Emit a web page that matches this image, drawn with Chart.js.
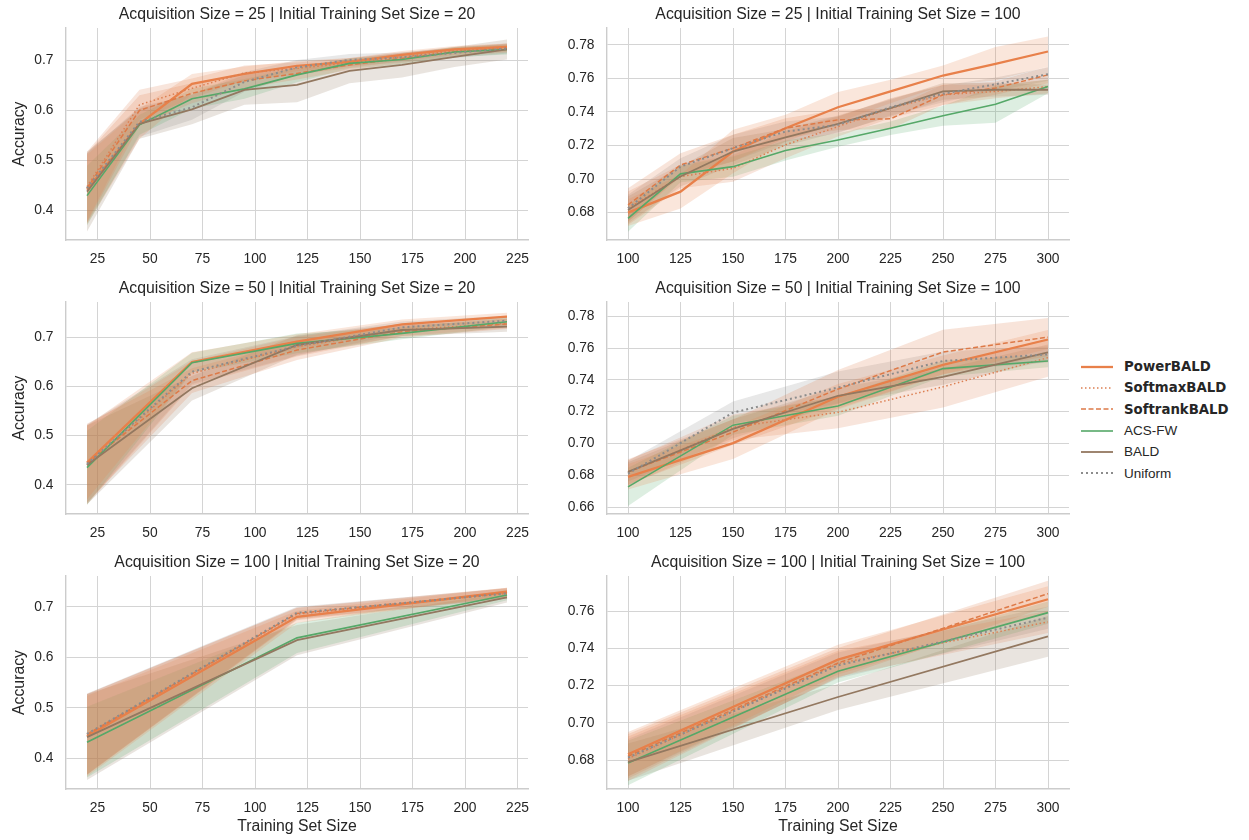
<!DOCTYPE html>
<html>
<head>
    <meta charset="utf-8" />
    <title>Accuracy vs Training Set Size</title>
    <style>
        body {
            margin: 0;
            background: #fff;
            width: 1249px;
            height: 840px;
            position: relative;
            overflow: hidden;
            font-family: "Liberation Sans", Arial, sans-serif;
        }
        canvas {
            position: absolute;
        }
        #legend {
            position: absolute;
            left: 1081px;
            top: 356px;
            font-size: 13.5px;
            color: #262626;
        }
        #legend .row {
            height: 21.3px;
            display: flex;
            align-items: center;
        }
        #legend .b {
            font-family: "DejaVu Sans", sans-serif;
            font-weight: bold;
            font-size: 13.3px;
        }
        #legend svg {
            width: 32px;
            height: 6px;
            margin-right: 11px;
        }
    </style>
</head>

<body>
    <canvas id="c1" width="540" height="274" style="left:0;top:0"></canvas>
    <canvas id="c2" width="520" height="274" style="left:560px;top:0"></canvas>
    <canvas id="c3" width="540" height="274" style="left:0;top:274px"></canvas>
    <canvas id="c4" width="520" height="274" style="left:560px;top:274px"></canvas>
    <canvas id="c5" width="540" height="292" style="left:0;top:548px"></canvas>
    <canvas id="c6" width="520" height="292" style="left:560px;top:548px"></canvas>
    <div id="legend"></div>

<script src="https://cdn.jsdelivr.net/npm/chart.js@4.4.0/dist/chart.umd.min.js"></script>
<script>
    // methods, in hue order
    var methods = ['PowerBALD', 'SoftmaxBALD', 'SoftrankBALD', 'ACS-FW', 'BALD', 'Uniform'];
    var boldNames = [true, true, true, false, false, false];

    // training set sizes per panel
    var xAcq25Init20 = [20, 45, 70, 95, 120, 145, 170, 195, 220];
    var xAcq25Init100 = [100, 125, 150, 175, 200, 225, 250, 275, 300];
    var xAcq50Init20 = [20, 70, 120, 170, 220];
    var xAcq50Init100 = [100, 150, 200, 250, 300];
    var xAcq100Init20 = [20, 120, 220];
    var xAcq100Init100 = [100, 200, 300];

    // tick labels
    var xTicksLeft = [25, 50, 75, 100, 125, 150, 175, 200, 225];
    var xTicksRight = [100, 125, 150, 175, 200, 225, 250, 275, 300];
    var yTicksLeft = [0.4, 0.5, 0.6, 0.7];
    var yTicksRight = [0.68, 0.70, 0.72, 0.74, 0.76, 0.78];
    var yTicksRight4 = [0.66, 0.68, 0.70, 0.72, 0.74, 0.76, 0.78];
    var yTicksRight6 = [0.68, 0.70, 0.72, 0.74, 0.76];

    // mean accuracy, rows follow `methods`
    var p1Mean = [
        [0.441, 0.573, 0.653, 0.673, 0.689, 0.697, 0.711, 0.722, 0.727],
        [0.447, 0.611, 0.644, 0.675, 0.684, 0.695, 0.707, 0.719, 0.726],
        [0.444, 0.600, 0.634, 0.659, 0.674, 0.691, 0.704, 0.717, 0.724],
        [0.429, 0.571, 0.623, 0.643, 0.671, 0.694, 0.702, 0.717, 0.722],
        [0.437, 0.573, 0.602, 0.641, 0.651, 0.679, 0.691, 0.707, 0.722],
        [0.444, 0.577, 0.606, 0.657, 0.686, 0.701, 0.706, 0.715, 0.724]
    ];
    var p1Err = [
        [0.070, 0.030, 0.020, 0.015, 0.010, 0.008, 0.008, 0.007, 0.007],
        [0.070, 0.030, 0.020, 0.015, 0.012, 0.010, 0.008, 0.008, 0.008],
        [0.070, 0.030, 0.020, 0.015, 0.012, 0.010, 0.010, 0.008, 0.008],
        [0.060, 0.020, 0.020, 0.020, 0.015, 0.010, 0.010, 0.010, 0.010],
        [0.080, 0.030, 0.030, 0.030, 0.035, 0.025, 0.025, 0.020, 0.020],
        [0.070, 0.030, 0.025, 0.020, 0.015, 0.012, 0.010, 0.010, 0.010]
    ];

    var p2Mean = [
        [0.680, 0.6925, 0.7164, 0.7303, 0.7428, 0.7522, 0.7617, 0.7687, 0.776],
        [0.6826, 0.7015, 0.7064, 0.7204, 0.7313, 0.7422, 0.7502, 0.7522, 0.7551],
        [0.6846, 0.7084, 0.7184, 0.7303, 0.7353, 0.7359, 0.7502, 0.7542, 0.7621],
        [0.6766, 0.7031, 0.7074, 0.717, 0.7233, 0.7303, 0.7377, 0.7446, 0.7551],
        [0.6816, 0.7015, 0.7164, 0.7249, 0.7329, 0.7422, 0.7522, 0.7532, 0.7532],
        [0.6826, 0.7074, 0.7184, 0.7283, 0.7323, 0.7428, 0.7508, 0.7565, 0.7625]
    ];
    var p2Err = [
        [0.008, 0.010, 0.013, 0.008, 0.009, 0.007, 0.006, 0.010, 0.009],
        [0.010, 0.007, 0.008, 0.008, 0.006, 0.006, 0.006, 0.004, 0.004],
        [0.010, 0.007, 0.008, 0.006, 0.006, 0.006, 0.006, 0.004, 0.005],
        [0.008, 0.005, 0.006, 0.006, 0.004, 0.004, 0.006, 0.011, 0.004],
        [0.008, 0.006, 0.008, 0.005, 0.005, 0.005, 0.005, 0.004, 0.003],
        [0.008, 0.005, 0.008, 0.006, 0.005, 0.005, 0.005, 0.004, 0.004]
    ];

    var p3Mean = [
        [0.4453, 0.6493, 0.6905, 0.7257, 0.7412],
        [0.4405, 0.6264, 0.6804, 0.7142, 0.7277],
        [0.4440, 0.6115, 0.6736, 0.7108, 0.7264],
        [0.4350, 0.6480, 0.6870, 0.7074, 0.7310],
        [0.4405, 0.5960, 0.6838, 0.7142, 0.7209],
        [0.4426, 0.6297, 0.6818, 0.7196, 0.7331]
    ];
    var p3Err = [
        [0.075, 0.020, 0.015, 0.010, 0.008],
        [0.080, 0.025, 0.020, 0.012, 0.010],
        [0.080, 0.025, 0.020, 0.012, 0.010],
        [0.075, 0.020, 0.020, 0.012, 0.010],
        [0.080, 0.025, 0.020, 0.012, 0.010],
        [0.080, 0.025, 0.020, 0.012, 0.010]
    ];

    var p4Mean = [
        [0.6790, 0.7002, 0.7294, 0.7494, 0.7654],
        [0.6815, 0.7102, 0.7196, 0.7356, 0.7540],
        [0.6821, 0.7071, 0.7342, 0.7575, 0.7669],
        [0.6727, 0.7115, 0.7235, 0.7471, 0.7519],
        [0.6821, 0.7092, 0.7300, 0.7419, 0.7573],
        [0.6810, 0.7194, 0.7352, 0.7519, 0.7560]
    ];
    var p4Err = [
        [0.008, 0.010, 0.008, 0.006, 0.006],
        [0.008, 0.008, 0.010, 0.013, 0.012],
        [0.008, 0.008, 0.012, 0.014, 0.012],
        [0.012, 0.006, 0.006, 0.005, 0.004],
        [0.006, 0.006, 0.005, 0.005, 0.005],
        [0.008, 0.007, 0.010, 0.006, 0.005]
    ];

    var p5Mean = [
        [0.4437, 0.6801, 0.7298],
        [0.4470, 0.6854, 0.7265],
        [0.4470, 0.6868, 0.7278],
        [0.4318, 0.6384, 0.7232],
        [0.4417, 0.6338, 0.7185],
        [0.4483, 0.6881, 0.7265]
    ];
    var p5Err = [
        [0.080, 0.012, 0.008],
        [0.080, 0.012, 0.010],
        [0.080, 0.012, 0.010],
        [0.070, 0.030, 0.010],
        [0.085, 0.030, 0.010],
        [0.080, 0.012, 0.010]
    ];

    var p6Mean = [
        [0.6831, 0.7340, 0.7665],
        [0.6807, 0.7318, 0.7543],
        [0.6820, 0.7322, 0.7695],
        [0.6784, 0.7277, 0.7593],
        [0.6789, 0.7139, 0.7465],
        [0.6813, 0.7309, 0.7566]
    ];
    var p6Err = [
        [0.012, 0.008, 0.007],
        [0.012, 0.007, 0.006],
        [0.012, 0.008, 0.007],
        [0.012, 0.006, 0.006],
        [0.010, 0.007, 0.011],
        [0.010, 0.007, 0.006]
    ];

    // styles
    var lineColors = ['#e8804a', '#dc7f52', '#dd7a48', '#55a868', '#937860', '#8c8c8c'];
    var bandColors = ['rgba(230,128,75,0.2)', 'rgba(220,127,82,0.2)', 'rgba(221,122,72,0.2)',
        'rgba(85,168,104,0.2)', 'rgba(147,120,96,0.2)', 'rgba(140,140,140,0.2)'];
    var lineWidths = [2.3, 1.5, 1.5, 1.6, 1.8, 2.0];
    var lineDashes = [[], [1.5, 2.5], [5, 2.5], [], [], [2, 3]];

    var fontFam = '"Liberation Sans", Arial, sans-serif';
    var textColor = '#262626';
    var gridColor = '#d4d4d4';

    function makePanel(id, title, xs, mean, err, o) {
        var datasets = [];
        for (var i = 0; i < methods.length; i++) {
            var lo = xs.map(function (x, j) { return { x: x, y: mean[i][j] - err[i][j] }; });
            var hi = xs.map(function (x, j) { return { x: x, y: mean[i][j] + err[i][j] }; });
            datasets.push({
                label: methods[i] + ' lo', data: lo, borderColor: 'transparent',
                borderWidth: 0, pointRadius: 0, fill: false, order: 20
            });
            datasets.push({
                label: methods[i] + ' hi', data: hi, borderColor: 'transparent',
                borderWidth: 0, pointRadius: 0, fill: datasets.length - 1,
                backgroundColor: bandColors[i], order: 20
            });
        }
        for (var k = 0; k < methods.length; k++) {
            datasets.push({
                label: methods[k],
                data: xs.map(function (x, j) { return { x: x, y: mean[k][j] }; }),
                borderColor: lineColors[k],
                borderWidth: lineWidths[k],
                borderDash: lineDashes[k],
                pointRadius: 0,
                fill: false,
                tension: 0,
                order: methods.length - k
            });
        }

        return new Chart(document.getElementById(id), {
            type: 'line',
            data: { datasets: datasets },
            options: {
                responsive: false,
                animation: false,
                layout: { padding: { right: o.padRight } },
                plugins: {
                    legend: { display: false },
                    tooltip: { enabled: false },
                    filler: { drawTime: 'beforeDatasetsDraw' },
                    title: {
                        display: true,
                        text: title,
                        fullSize: false,
                        color: textColor,
                        font: { family: fontFam, size: 15.8, weight: 'normal' },
                        padding: { top: 5.5, bottom: 3.54 }
                    }
                },
                scales: {
                    x: {
                        type: 'linear',
                        min: o.xMin, max: o.xMax,
                        afterBuildTicks: function (s) { s.ticks = o.xTicks.map(function (v) { return { value: v }; }); },
                        afterFit: function (s) { s.height = o.xH; },
                        ticks: {
                            color: textColor, padding: 10.5, maxRotation: 0, autoSkip: false,
                            font: { family: fontFam, size: 13.8 },
                            callback: function (v) { return String(v); }
                        },
                        grid: { color: gridColor, lineWidth: 1, drawTicks: false },
                        border: { color: '#cccccc', width: 1.4 },
                        title: {
                            display: o.xTitle, text: 'Training Set Size', color: textColor,
                            font: { family: fontFam, size: 15.8 }, padding: { top: 0, bottom: 3.5 }
                        }
                    },
                    y: {
                        min: o.yMin, max: o.yMax,
                        afterBuildTicks: function (s) { s.ticks = o.yTicks.map(function (v) { return { value: v }; }); },
                        afterFit: function (s) { s.width = o.yW; },
                        ticks: {
                            color: textColor, padding: 12.5,
                            font: { family: fontFam, size: 13.8 },
                            callback: function (v) { return v.toFixed(o.dec); }
                        },
                        grid: { color: gridColor, lineWidth: 1, drawTicks: false },
                        border: { color: '#cccccc', width: 1.4 },
                        title: {
                            display: o.yTitle, text: 'Accuracy', color: textColor,
                            font: { family: fontFam, size: 15.8 }, padding: { top: 10.5, bottom: 0 }
                        }
                    }
                }
            }
        });
    }

    var leftOpts = { xMin: 10, xMax: 230, xTicks: xTicksLeft, yTicks: yTicksLeft, dec: 1, yW: 66, padRight: 12, yTitle: true };
    var rightOpts = { xMin: 90, xMax: 310, xTicks: xTicksRight, dec: 2, yW: 47, padRight: 11, yTitle: false };

    function merge(a, b) {
        var r = {};
        for (var k in a) r[k] = a[k];
        for (var m in b) r[m] = b[m];
        return r;
    }

    makePanel('c1', 'Acquisition Size = 25 | Initial Training Set Size = 20', xAcq25Init20, p1Mean, p1Err,
        merge(leftOpts, { yMin: 0.34, yMax: 0.765, xH: 34, xTitle: false }));
    makePanel('c2', 'Acquisition Size = 25 | Initial Training Set Size = 100', xAcq25Init100, p2Mean, p2Err,
        merge(rightOpts, { yMin: 0.6637, yMax: 0.790, yTicks: yTicksRight, xH: 34, xTitle: false }));
    makePanel('c3', 'Acquisition Size = 50 | Initial Training Set Size = 20', xAcq50Init20, p3Mean, p3Err,
        merge(leftOpts, { yMin: 0.341, yMax: 0.771, xH: 34, xTitle: false }));
    makePanel('c4', 'Acquisition Size = 50 | Initial Training Set Size = 100', xAcq50Init100, p4Mean, p4Err,
        merge(rightOpts, { yMin: 0.6556, yMax: 0.789, yTicks: yTicksRight4, xH: 34, xTitle: false }));
    makePanel('c5', 'Acquisition Size = 100 | Initial Training Set Size = 20', xAcq100Init20, p5Mean, p5Err,
        merge(leftOpts, { yMin: 0.339, yMax: 0.761, xH: 51, xTitle: true }));
    makePanel('c6', 'Acquisition Size = 100 | Initial Training Set Size = 100', xAcq100Init100, p6Mean, p6Err,
        merge(rightOpts, { yMin: 0.6644, yMax: 0.779, yTicks: yTicksRight6, xH: 51, xTitle: true }));

    // legend
    var legend = document.getElementById('legend');
    methods.forEach(function (m, i) {
        var row = document.createElement('div');
        row.className = 'row';
        var dash = lineDashes[i].length ? ' stroke-dasharray="' + lineDashes[i].join(',') + '"' : '';
        row.innerHTML = '<svg viewBox="0 0 32 6"><line x1="0" y1="3" x2="32" y2="3" stroke="' + lineColors[i] +
            '" stroke-width="' + lineWidths[i] + '"' + dash + '/></svg>' +
            '<span class="' + (boldNames[i] ? 'b' : '') + '">' + m + '</span>';
        legend.appendChild(row);
    });
</script>
</body>
</html>
